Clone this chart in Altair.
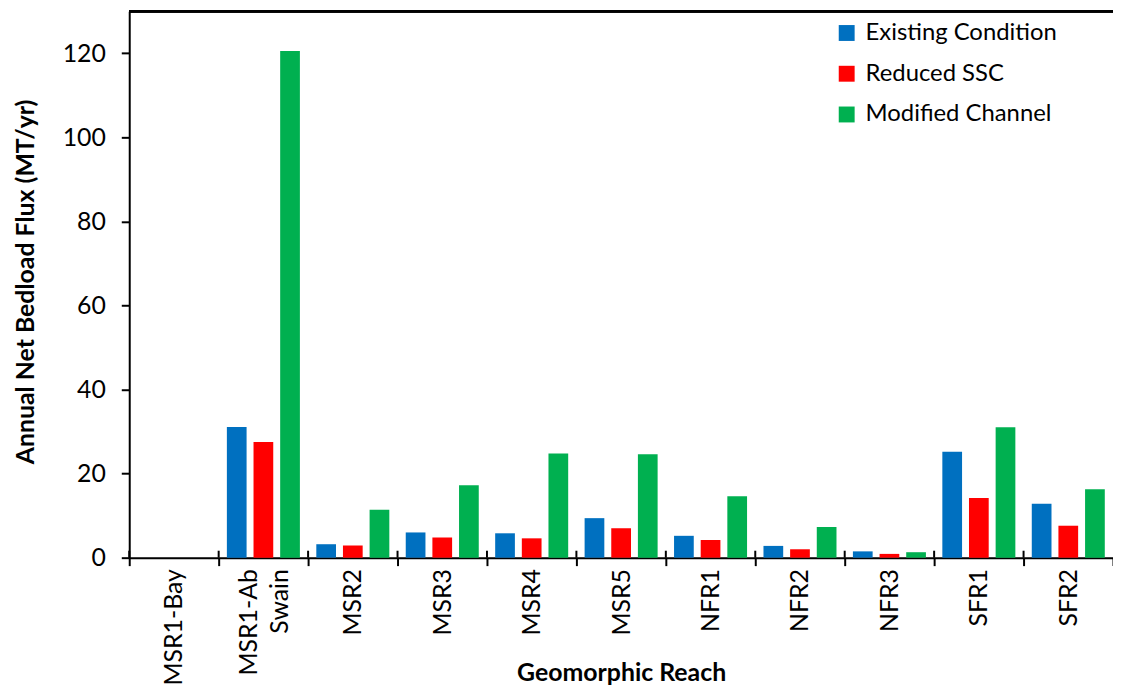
import altair as alt
import pandas as pd

categories = ["MSR1-Bay", "MSR1-Ab Swain", "MSR2", "MSR3", "MSR4", "MSR5",
              "NFR1", "NFR2", "NFR3", "SFR1", "SFR2"]
series = ["Existing Condition", "Reduced SSC", "Modified Channel"]
existing = [0, 31.1, 3.2, 6.0, 5.8, 9.4, 5.2, 2.8, 1.5, 25.2, 12.8]
reduced = [0, 27.5, 2.9, 4.8, 4.6, 7.0, 4.2, 2.0, 0.9, 14.2, 7.6]
modified = [0, 120.5, 11.4, 17.2, 24.8, 24.6, 14.6, 7.3, 1.3, 31.0, 16.3]
colors = ["#0070C0", "#FF0000", "#00B050"]
y_ticks = [0, 20, 40, 60, 80, 100, 120]

rows = []
for name, vals in zip(series, [existing, reduced, modified]):
    for c, v in zip(categories, vals):
        rows.append({"reach": c, "series": name, "value": v})
df = pd.DataFrame(rows)
cat_df = pd.DataFrame({"reach": categories})

FONT = "Lato"
W = 990
H = 550

bars = alt.Chart(df).mark_bar().encode(
    x=alt.X("reach:N", sort=categories,
            scale=alt.Scale(paddingInner=0, paddingOuter=0),
            axis=alt.Axis(title="Geomorphic Reach", labelAngle=-90, tickBand="extent",
                          labelAlign="right", labelBaseline="middle",
                          labelFontSize=25, labelFont=FONT, labelColor="black",
                          labelLineHeight=31,
                          labelExpr="datum.value == 'MSR1-Ab Swain' ? ['MSR1-Ab', 'Swain'] : datum.label",
                          labelOffset={"condition": {"test": "datum.value == 'MSR1-Ab Swain'", "value": -15},
                                       "value": 0},
                          tickSize=8, tickWidth=2, tickColor="black",
                          domainWidth=2, domainColor="black", labelPadding=3,
                          titleFont=FONT, titleFontSize=25, titleFontWeight="bold",
                          titleColor="black", titleY=116, titleBaseline="middle",
                          grid=False)),
    xOffset=alt.XOffset("series:N", sort=series,
                        scale=alt.Scale(paddingInner=0.26, paddingOuter=0.308)),
    y=alt.Y("value:Q", scale=alt.Scale(domain=[0, 130], nice=False),
            axis=alt.Axis(title="Annual Net Bedload Flux (MT/yr)", values=y_ticks,
                          labelFontSize=25, labelFont=FONT, labelColor="black",
                          tickSize=8, tickWidth=2, tickColor="black",
                          domainWidth=2, domainColor="black", labelPadding=16,
                          titleFont=FONT, titleFontSize=25, titleFontWeight="bold",
                          titleColor="black", titleX=-104, titleY=272,
                          titleBaseline="middle", grid=False)),
    color=alt.Color("series:N", sort=series,
                    scale=alt.Scale(domain=series, range=colors),
                    legend=alt.Legend(title=None, orient="none", legendX=710, legendY=10,
                                      symbolType="square", symbolSize=256,
                                      symbolStrokeWidth=0, labelFontSize=24,
                                      labelFont=FONT, labelColor="black",
                                      labelLimit=400,
                                      rowPadding=17, labelOffset=7)),
)

# upper half of the crossing category ticks
cross_ticks = alt.Chart(cat_df).mark_rule(color="black", strokeWidth=2).encode(
    x=alt.X("reach:N", sort=categories, bandPosition=0),
    y=alt.value(H - 7), y2=alt.value(H)
)

frame = alt.Chart(cat_df).mark_rule(color="black", strokeWidth=2).encode(
    y=alt.value(0), x=alt.value(0), x2=alt.value(W)
)

chart = alt.layer(bars, cross_ticks, frame).properties(
    width=W, height=H,
    autosize=alt.AutoSizeParams(type="none"),
    padding={"left": 122, "top": 1, "right": 0, "bottom": 130},
).configure_view(stroke=None).configure(background="white")

chart.save("out.html", embed_options={"renderer": "svg", "actions": False})
